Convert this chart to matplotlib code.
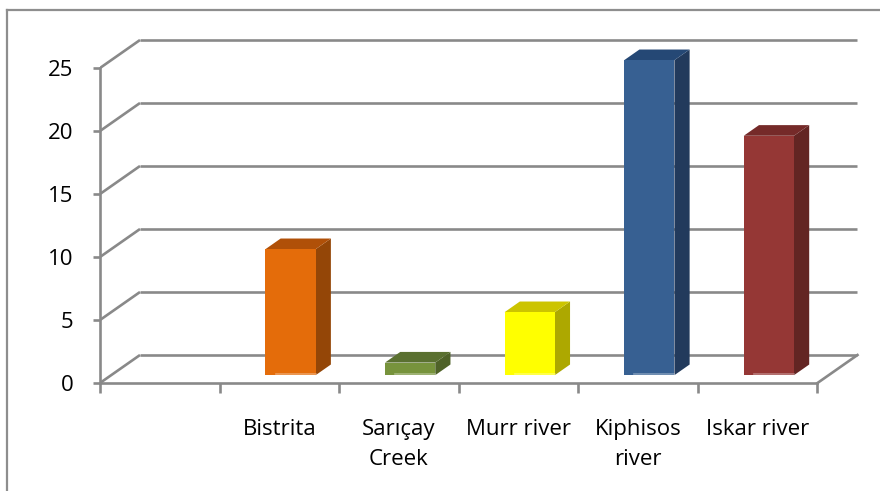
import matplotlib
matplotlib.use("Agg")
import matplotlib.pyplot as plt
from matplotlib.patches import Polygon
from matplotlib.lines import Line2D
import numpy as np

# ---- data ----
categories = ["", "Bistrita", "Sarıçay\nCreek", "Murr river", "Kiphisos\nriver", "Iskar river"]
values = [np.nan, 10, 1, 5, 25, 19]
yticks = [0, 5, 10, 15, 20, 25]

front_colors = [None, "#E46C0A", "#77933C", "#FFFF00", "#376092", "#953735"]
top_colors = [None, "#B05008", "#5A7030", "#CCC400", "#254875", "#752A29"]
side_colors = [None, "#944607", "#4F6228", "#ADA800", "#223A5C", "#632523"]

plt.rcParams["font.family"] = ["Open Sans", "DejaVu Sans"]
GRID = "#898989"

W, H = 880, 491
fig = plt.figure(figsize=(W / 100, H / 100), dpi=100)

# axes placed in pixel terms; front floor corner at (100, 383)
px_x, px_v = 119.58, 12.6
left_px, right_px, top_px, bot_px = 100, 864, 28, 400
ax = fig.add_axes([left_px / W, 1 - bot_px / H, (right_px - left_px) / W, (bot_px - top_px) / H])
ax.set_xlim(0, (right_px - left_px) / px_x)
ax.set_ylim(-(bot_px - 383) / px_v, (383 - top_px) / px_v)

# oblique depth of the back wall, in data units
DX = 40 / px_x
DY = 28 / px_v
n = len(categories)

# walls: diagonals + back gridlines
for v in yticks:
    ax.plot([0, DX], [v, v + DY], color=GRID, lw=1.9, solid_capstyle="butt", zorder=1)
    ax.plot([DX, n + DX], [v + DY, v + DY], color=GRID, lw=1.9, solid_capstyle="butt", zorder=1)
ax.plot([n, n + DX], [0, DY], color=GRID, lw=1.9, zorder=1)

# bars as oblique prisms
w, z0, dz = 0.42, 0.28, 0.38
for i, val in enumerate(values):
    if np.isnan(val):
        continue
    c = i + 0.5
    xl = c - w / 2 + z0 * DX
    xr = c + w / 2 + z0 * DX
    yb = z0 * DY
    yt = val + z0 * DY
    ox, oy = dz * DX, dz * DY
    ax.add_patch(Polygon([(xr, yb), (xr + ox, yb + oy), (xr + ox, yt + oy), (xr, yt)],
                         closed=True, facecolor=side_colors[i], edgecolor="none", zorder=3))
    ax.add_patch(Polygon([(xl, yt), (xr, yt), (xr + ox, yt + oy), (xl + ox, yt + oy)],
                         closed=True, facecolor=top_colors[i], edgecolor="none", zorder=3))
    ax.add_patch(Polygon([(xl, yb), (xr, yb), (xr, yt), (xl, yt)],
                         closed=True, facecolor=front_colors[i], edgecolor="none", zorder=4))
    ax.plot([xl + 0.2 * w, xr], [yb + 0.08, yb + 0.08], color="white", alpha=0.35, lw=1.2, zorder=5)

# axes lines and ticks
for s in ["top", "right"]:
    ax.spines[s].set_visible(False)
ax.spines["left"].set_bounds(0, yticks[-1])
ax.spines["left"].set_color(GRID)
ax.spines["left"].set_linewidth(1.9)
ax.spines["bottom"].set_position(("data", 0))
ax.spines["bottom"].set_bounds(0, n)
ax.spines["bottom"].set_color(GRID)
ax.spines["bottom"].set_linewidth(1.9)

ax.set_yticks(yticks)
ax.set_yticklabels([str(t) for t in yticks])
ax.tick_params(axis="y", length=5, width=1.9, color=GRID, pad=14, labelsize=16, labelcolor="black")

ax.set_xticks(range(n + 1))
ax.set_xticklabels([""] * (n + 1))
ax.tick_params(axis="x", which="major", length=7, width=1.9, color=GRID)
ax.set_xticks([i + 0.5 for i in range(n)], minor=True)
ax.set_xticklabels(categories, minor=True, fontsize=16, linespacing=1.55)
ax.tick_params(axis="x", which="minor", length=0, pad=26, labelcolor="black")

ax.patch.set_visible(False)

# chart area border (top and left edges)
fig.add_artist(Line2D([7 / W, 7 / W], [0, 1 - 10 / H], color="#8E8E8E", lw=1.6, transform=fig.transFigure))
fig.add_artist(Line2D([7 / W, 1], [1 - 10 / H, 1 - 10 / H], color="#8E8E8E", lw=1.6, transform=fig.transFigure))

fig.savefig("out.png", dpi=100)
